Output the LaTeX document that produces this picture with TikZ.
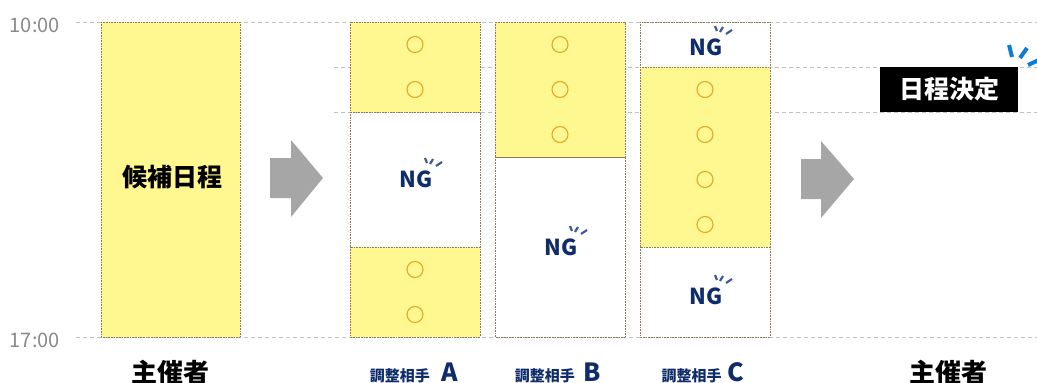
\documentclass[tikz,border=0pt]{standalone}
\usepackage{fontspec}
\setmainfont{Noto Sans CJK JP}
\definecolor{slotyellow}{HTML}{FFF78F}
\definecolor{dotbrown}{HTML}{8B7B55}
\definecolor{okgold}{HTML}{E2A92A}
\definecolor{ngnavy}{HTML}{0F2D6B}
\definecolor{ngtick}{HTML}{3D5A94}
\definecolor{arrowgray}{HTML}{A6A6A6}
\definecolor{gridgray}{HTML}{C0C0C0}
\definecolor{labelgray}{HTML}{8A8A8A}
\definecolor{markblue}{HTML}{0C7CD5}
\newcommand\ngmark[3]{%
  \node[ngtext] (#1) at (#2,#3) {NG};
  \draw[ngtickline] ([shift={(9,-29)}]#1.base) -- ([shift={(11,-24)}]#1.base);
  \draw[ngtickline] ([shift={(17,-28)}]#1.base) -- ([shift={(14,-23)}]#1.base);
  \draw[ngtickline] ([shift={(26,-25)}]#1.base) -- ([shift={(20,-21)}]#1.base);
}
\begin{document}
\begin{tikzpicture}[x=1pt,y=-1pt,
  gridline/.style={draw=gridgray,line width=1pt,dash pattern=on 4pt off 3pt},
  slotbox/.style={draw=dotbrown,line width=0.8pt,dash pattern=on 0.8pt off 0.8pt},
  yes/.style={slotbox,fill=slotyellow},
  okmark/.style={circle,draw=okgold,line width=1.1pt,minimum size=16pt,inner sep=0pt},
  ngtext/.style={font=\fontsize{22}{24}\selectfont\bfseries,text=ngnavy,inner sep=0pt,anchor=base},
  ngtickline/.style={draw=ngtick,line width=2.2pt},
  bigarrow/.style={fill=arrowgray},
  timelabel/.style={font=\fontsize{20}{22}\selectfont,text=labelgray,inner sep=0pt,anchor=base east},
  hostlabel/.style={font=\fontsize{26}{28}\selectfont\bfseries,inner sep=0pt,anchor=base},
  partylabel/.style={text=ngnavy,inner sep=0pt,anchor=base},
  blueline/.style={draw=markblue,line width=4pt}]
\useasboundingbox (0,0) rectangle (1037,383);
% grid lines
\draw[gridline] (76,22) -- (1037,22);
\draw[gridline] (76,337) -- (1037,337);
\draw[gridline] (334,67) -- (1037,67);
\draw[gridline] (334,112) -- (1037,112);
\node[timelabel] (t10) at (60,32) {10:00};
\node[timelabel] (t17) at (60,347) {17:00};
% organiser candidate block
\draw[yes] (101,22) rectangle (240,337);
\node[font=\fontsize{25}{27}\selectfont\bfseries,inner sep=0pt] (cand) at (172,177) {候補日程};
% arrows
\fill[bigarrow] (270,158) -- (291,158) -- (291,140) -- (323,178) -- (291,217) -- (291,198) -- (270,198) -- cycle;
\fill[bigarrow] (801,159) -- (821,159) -- (821,141) -- (854,179) -- (821,218) -- (821,199) -- (801,199) -- cycle;
% column A
\draw[yes] (350,22) rectangle (480,112);
\draw[slotbox] (350,112) rectangle (480,247);
\draw[yes] (350,247) rectangle (480,337);
\node[okmark] (a1) at (415,44.5) {};
\node[okmark] (a2) at (415,89.5) {};
\node[okmark] (a3) at (415,269.5) {};
\node[okmark] (a4) at (415,314.5) {};
\ngmark{ngA}{416}{187}
% column B
\draw[yes] (495,22) rectangle (625,157);
\draw[slotbox] (495,157) rectangle (625,337);
\node[okmark] (b1) at (560,44.5) {};
\node[okmark] (b2) at (560,89.5) {};
\node[okmark] (b3) at (560,134.5) {};
\ngmark{ngB}{561}{255}
% column C
\draw[slotbox] (640,22) rectangle (770,67);
\draw[yes] (640,67) rectangle (770,247);
\draw[slotbox] (640,247) rectangle (770,337);
\node[okmark] (c1) at (705,89.5) {};
\node[okmark] (c2) at (705,134.5) {};
\node[okmark] (c3) at (705,179.5) {};
\node[okmark] (c4) at (705,224.5) {};
\ngmark{ngC1}{706}{55}
\ngmark{ngC2}{706}{304}
% decision
\node[fill=black,text=white,font=\fontsize{25}{27}\selectfont\bfseries,minimum width=138pt,minimum height=45pt,inner sep=0pt] (decide) at (949,89.5) {日程決定};
\draw[blueline] (1009,45) -- (1012,57);
\draw[blueline] (1027,48) -- (1020,58);
\draw[blueline] (1028,65) -- (1041,59);
% bottom labels
\node[hostlabel] (hostL) at (170,382) {主催者};
\node[hostlabel] (hostR) at (948,382) {主催者};
\node[partylabel] (pA) at (414,381) {{\fontsize{15}{16}\selectfont\bfseries 調整相手}\hspace{12pt}{\fontsize{25}{26}\selectfont\bfseries A}};
\node[partylabel] (pB) at (558,381) {{\fontsize{15}{16}\selectfont\bfseries 調整相手}\hspace{9pt}{\fontsize{25}{26}\selectfont\bfseries B}};
\node[partylabel] (pC) at (703,381) {{\fontsize{15}{16}\selectfont\bfseries 調整相手}\hspace{6pt}{\fontsize{25}{26}\selectfont\bfseries C}};
\end{tikzpicture}
\end{document}
